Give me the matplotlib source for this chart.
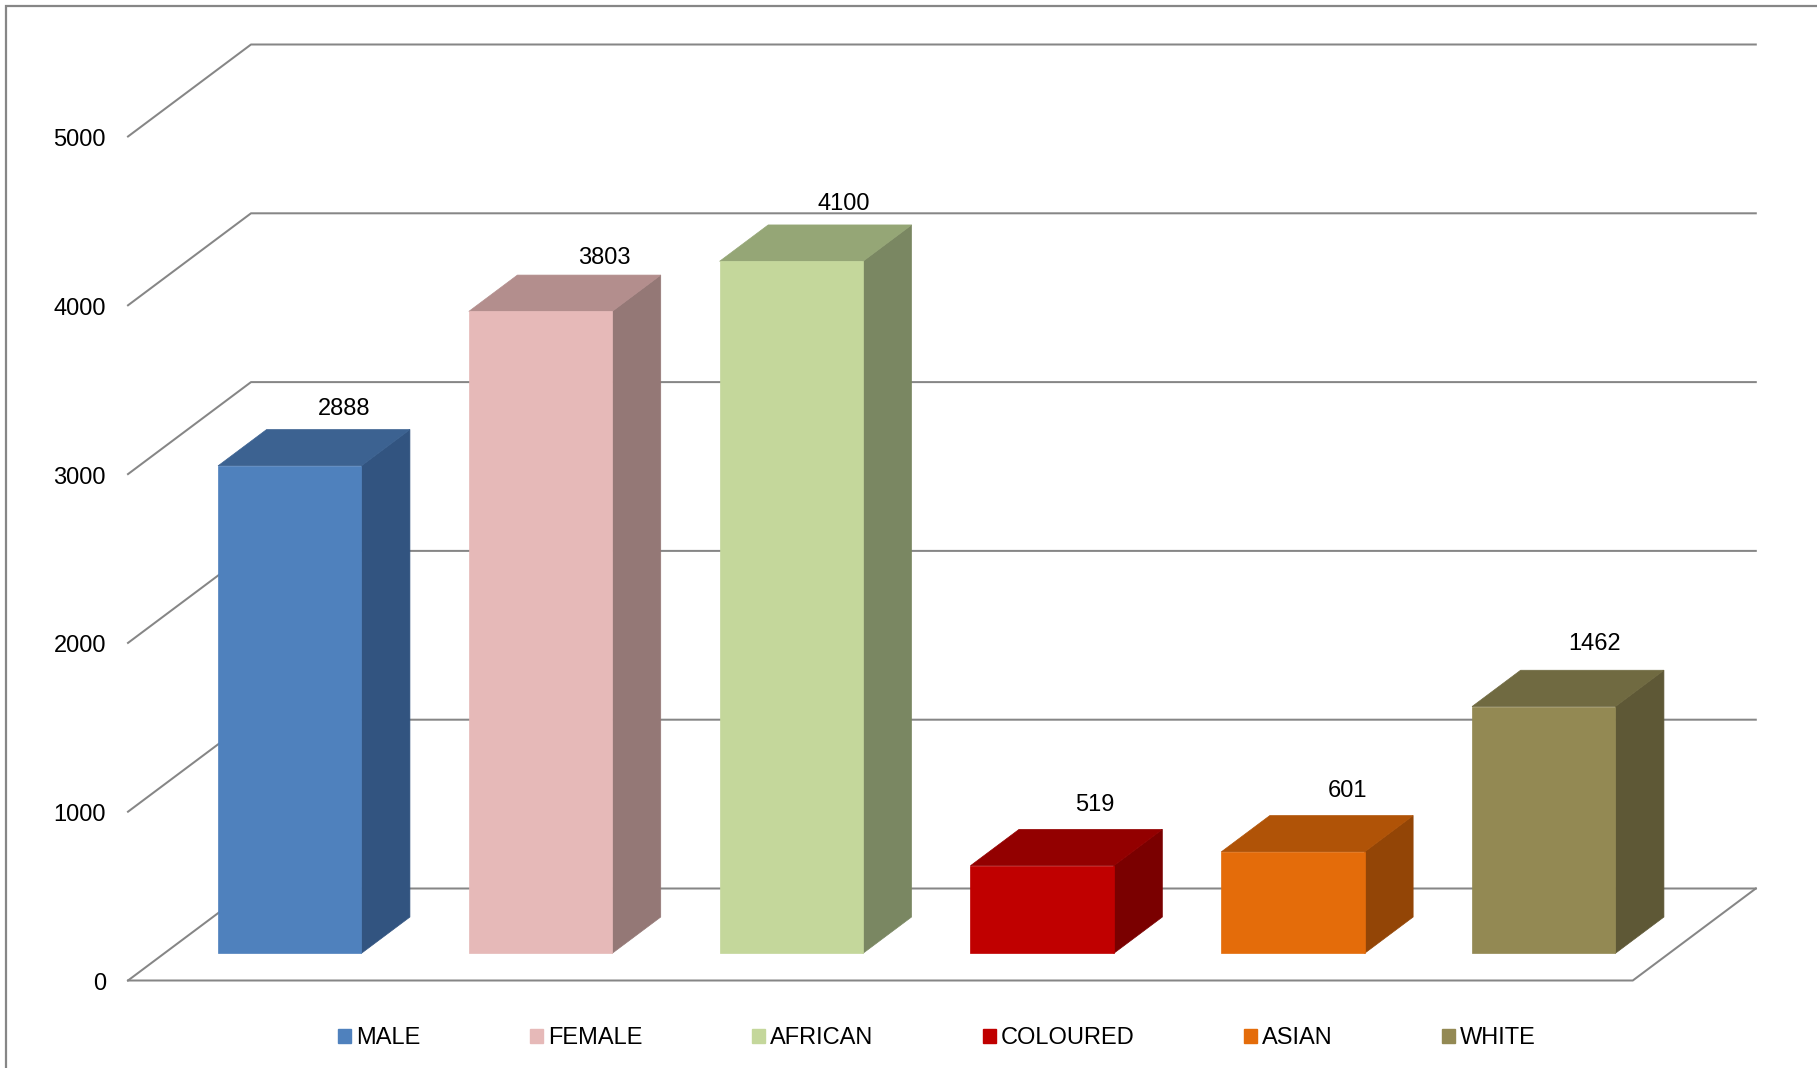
import matplotlib
matplotlib.use("Agg")
import matplotlib.pyplot as plt
from matplotlib.patches import Polygon, Patch, Rectangle
from matplotlib.lines import Line2D

plt.rcParams['font.family'] = ['Liberation Sans', 'DejaVu Sans']

# ---- data ----
categories = ["MALE", "FEMALE", "AFRICAN", "COLOURED", "ASIAN", "WHITE"]
values = [2888, 3803, 4100, 519, 601, 1462]
y_ticks = [0, 1000, 2000, 3000, 4000, 5000]
front_colors = ["#4F81BD", "#E6B9B8", "#C4D79B", "#C00000", "#E46C0A", "#938953"]
side_colors = ["#325480", "#947876", "#7A8762", "#7A0000", "#934506", "#5E5836"]
top_colors = ["#3C6291", "#B38E8D", "#95A676", "#930000", "#B05307", "#706A41"]

# ---- geometry (styling) ----
W, H = 1817, 1068
DPI = 100
PT = 72 / DPI                  # points per pixel
px_per_cat = 250.8
px_per_val = 0.1688
x0_px, y0_px = 128, 980.5
DX = 123 / px_per_cat          # depth offset in category units
DY = 92 / px_per_val           # depth offset in value units
gap = 0.2143
bar_w = 1 - 2 * gap
z_front, z_back = 0.295, 0.69
grid_col = "#868686"
grid_lw = 1.45
half_digit = 8.4               # px, half of digit height
label_nudge_x = [6, 15, 4, 4, 6, 2]          # px
label_nudge_y = [22.7, 19, 23.3, 26.4, 26.5, 28.8]  # px

fig = plt.figure(figsize=(W / DPI, H / DPI), dpi=DPI)
ax = fig.add_axes([0, 0, 1, 1])
ax.set_xlim(-x0_px / px_per_cat, (W - x0_px) / px_per_cat)
ax.set_ylim((y0_px - H) / px_per_val, y0_px / px_per_val)
ax.axis("off")

def proj(x, v, z):
    return (x + z * DX, v + z * DY)

n = len(categories)

# border
fig.patches.append(Rectangle((6 / W, -0.05), 1.2, 1 - 6 / H + 0.05,
                             transform=fig.transFigure, fill=False,
                             edgecolor=grid_col, lw=1.6))

# walls / gridlines
for v in y_ticks:
    pts = [proj(0, v, 0), proj(0, v, 1), proj(n, v, 1)]
    ax.add_line(Line2D([p[0] for p in pts], [p[1] for p in pts],
                       color=grid_col, lw=grid_lw, zorder=1))
    ax.annotate(str(v), xy=proj(0, v, 0),
                xytext=(-22 * PT, -(half_digit + 1) * PT),
                textcoords="offset points", ha="right", va="baseline",
                fontsize=17, color="black")
floor = [proj(0, 0, 0), proj(n, 0, 0), proj(n, 0, 1)]
ax.add_line(Line2D([p[0] for p in floor], [p[1] for p in floor],
                   color=grid_col, lw=grid_lw, zorder=1))

# bars
for i, (v, fc, sc, tc) in enumerate(zip(values, front_colors, side_colors, top_colors)):
    xl = i + gap
    xr = xl + bar_w
    front = [proj(xl, 0, z_front), proj(xr, 0, z_front), proj(xr, v, z_front), proj(xl, v, z_front)]
    side = [proj(xr, 0, z_front), proj(xr, 0, z_back), proj(xr, v, z_back), proj(xr, v, z_front)]
    top = [proj(xl, v, z_front), proj(xr, v, z_front), proj(xr, v, z_back), proj(xl, v, z_back)]
    for poly, c in ((side, sc), (top, tc), (front, fc)):
        ax.add_patch(Polygon(poly, closed=True, facecolor=c, edgecolor=c,
                             lw=0.5, zorder=3))
    ax.annotate(str(v), xy=proj(i + 0.5, v, z_back),
                xytext=(label_nudge_x[i] * PT, (label_nudge_y[i] - half_digit) * PT),
                textcoords="offset points", ha="center", va="baseline",
                fontsize=17, color="black", zorder=4)

handles = [Patch(facecolor=c, edgecolor=c) for c in front_colors]
fig.legend(handles, categories, ncol=6, loc="center",
           bbox_to_anchor=(937 / W, 1 - 1038.5 / H), frameon=False,
           fontsize=17, handlelength=0.55, handleheight=0.55,
           handletextpad=0.21, columnspacing=4.64)

fig.savefig("out.png", dpi=DPI)
